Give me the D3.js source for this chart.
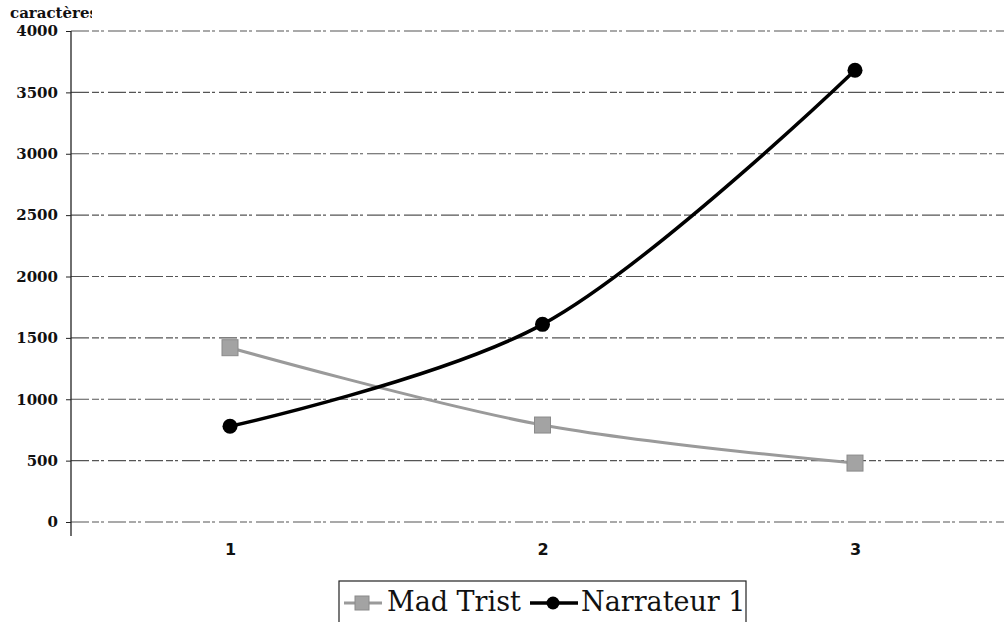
<!DOCTYPE html>
<html>
<head>
<meta charset="utf-8">
<script src="https://cdn.jsdelivr.net/npm/d3@7"></script>
<style>
  body { margin: 0; background: #fff; }
  svg { display: block; }
</style>
</head>
<body>
<div id="chart"></div>
<script>
const categories = ["1", "2", "3"]
const madTrist = [1420, 790, 480]
const narrateur = [780, 1610, 3680]
const yTicks = [0, 500, 1000, 1500, 2000, 2500, 3000, 3500, 4000]
const seriesNames = ["Mad Trist", "Narrateur 1"]

const W = 1004, H = 622
const M = { TOP: 31, LEFT: 71 }
const SERIF = "'DejaVu Serif', serif"

const svg = d3.select("#chart").append("svg")
  .attr("width", W).attr("height", H)

const x = d3.scalePoint()
  .domain(categories)
  .range([230, 855])

const y = d3.scaleLinear()
  .domain([0, 4000])
  .range([522, M.TOP])

// gridlines
svg.append("g").selectAll("line")
  .data(yTicks)
  .enter().append("line")
    .attr("x1", M.LEFT).attr("x2", W)
    .attr("y1", d => y(d)).attr("y2", d => y(d))
    .attr("stroke", "#555")
    .attr("stroke-width", 1.1)
    .attr("stroke-dasharray", "18,3,7,2,3,4")

// y axis
const yAxis = svg.append("g")
  .attr("transform", `translate(${M.LEFT},0)`)
  .call(d3.axisLeft(y).tickValues(yTicks).tickSize(5).tickFormat(d3.format("d")))
yAxis.select(".domain").remove()
yAxis.append("line")
  .attr("x1", 0).attr("x2", 0)
  .attr("y1", M.TOP).attr("y2", 536)
  .attr("stroke", "#222").attr("stroke-width", 1.3)
yAxis.selectAll(".tick line").attr("stroke", "#222")
yAxis.selectAll(".tick text")
  .attr("x", -13)
  .style("font-family", SERIF)
  .style("font-size", "15px")
  .style("font-weight", "bold")
  .attr("fill", "#111")

// x axis labels
const xAxis = svg.append("g")
  .attr("transform", "translate(0,541)")
  .call(d3.axisBottom(x).tickSize(0))
xAxis.select(".domain").remove()
xAxis.selectAll(".tick text")
  .style("font-family", "'DejaVu Sans', sans-serif")
  .style("font-size", "16px")
  .style("font-weight", "bold")
  .attr("fill", "#111")

// axis title, cut off like the original
svg.append("clipPath").attr("id", "tclip")
  .append("rect").attr("x", 0).attr("y", 0).attr("width", 92).attr("height", 30)
svg.append("text")
  .attr("x", 10).attr("y", 18)
  .attr("clip-path", "url(#tclip)")
  .style("font-family", SERIF)
  .style("font-size", "15px")
  .style("font-weight", "bold")
  .attr("fill", "#111")
  .text("caractères")

const line = d3.line()
  .x((d, i) => x(categories[i]))
  .y(d => y(d))
  .curve(d3.curveCatmullRom.alpha(0.5))

// Mad Trist
svg.append("path")
  .datum(madTrist)
  .attr("d", line)
  .attr("fill", "none")
  .attr("stroke", "#9a9a9a")
  .attr("stroke-width", 3)
svg.append("g").selectAll("rect")
  .data(madTrist)
  .enter().append("rect")
    .attr("x", (d, i) => x(categories[i]) - 8)
    .attr("y", d => y(d) - 8)
    .attr("width", 16).attr("height", 16)
    .attr("fill", "#a3a3a3")
    .attr("stroke", "#8a8a8a")

// Narrateur 1
svg.append("path")
  .datum(narrateur)
  .attr("d", line)
  .attr("fill", "none")
  .attr("stroke", "#000")
  .attr("stroke-width", 3.5)
svg.append("g").selectAll("circle")
  .data(narrateur)
  .enter().append("circle")
    .attr("cx", (d, i) => x(categories[i]))
    .attr("cy", d => y(d))
    .attr("r", 7.5)
    .attr("fill", "#000")

// legend
const lg = svg.append("g")
lg.append("rect")
  .attr("x", 339).attr("y", 581)
  .attr("width", 407).attr("height", 60)
  .attr("fill", "#fff")
  .attr("stroke", "#222").attr("stroke-width", 1.2)

lg.append("line")
  .attr("x1", 344).attr("x2", 382).attr("y1", 603).attr("y2", 603)
  .attr("stroke", "#9a9a9a").attr("stroke-width", 3)
lg.append("rect")
  .attr("x", 355).attr("y", 596).attr("width", 14).attr("height", 14)
  .attr("fill", "#a3a3a3").attr("stroke", "#8a8a8a")
lg.append("text")
  .attr("x", 387).attr("y", 611)
  .style("font-family", SERIF)
  .style("font-size", "27px")
  .attr("fill", "#111")
  .text(seriesNames[0])

lg.append("line")
  .attr("x1", 530).attr("x2", 578).attr("y1", 603).attr("y2", 603)
  .attr("stroke", "#000").attr("stroke-width", 3.5)
lg.append("circle")
  .attr("cx", 553).attr("cy", 603).attr("r", 6.5)
  .attr("fill", "#000")
lg.append("text")
  .attr("x", 581).attr("y", 611)
  .style("font-family", SERIF)
  .style("font-size", "27px")
  .attr("fill", "#111")
  .text(seriesNames[1])
</script>
</body>
</html>
